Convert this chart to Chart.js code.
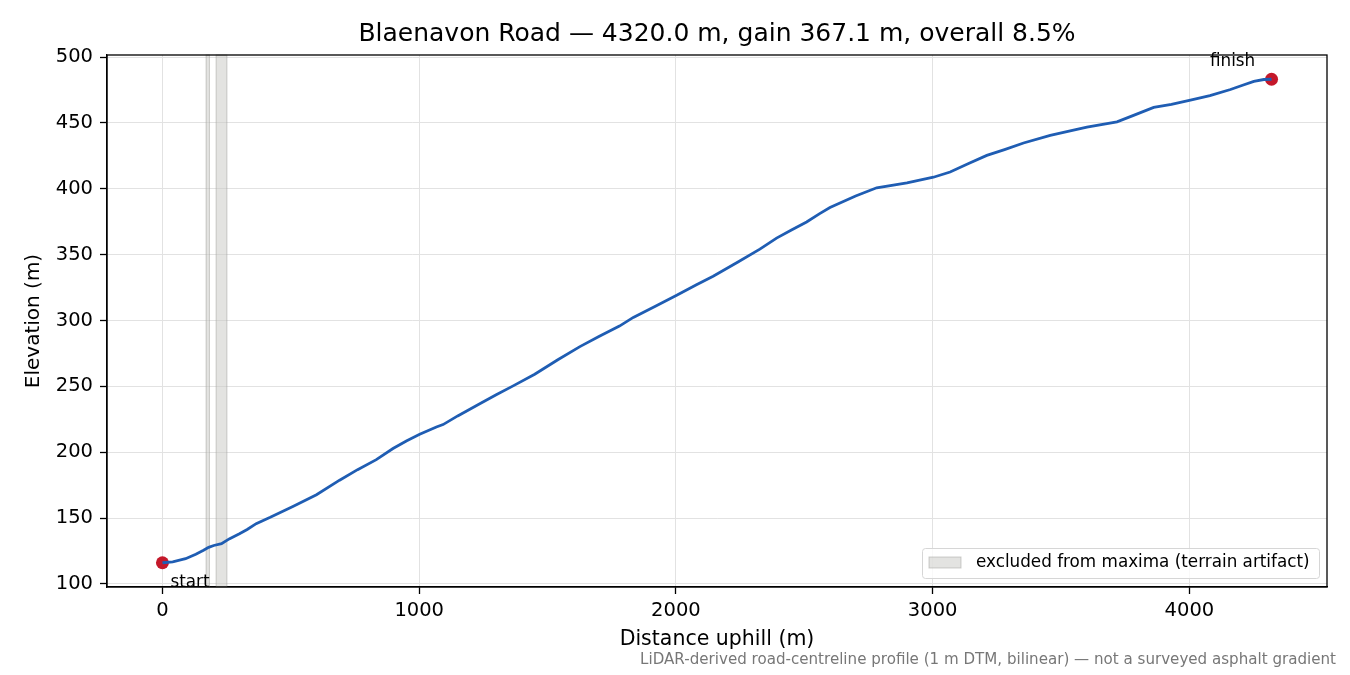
<!DOCTYPE html>
<html>
<head>
<meta charset="utf-8">
<script src="https://cdn.jsdelivr.net/npm/chart.js@4"></script>
<style>
  html, body { margin: 0; padding: 0; background: #fff; }
  #wrap { width: 1350px; height: 675px; position: relative; }
</style>
</head>
<body>
<div id="wrap"><canvas id="profile" width="1350" height="675"></canvas></div>
<script>
// Profile samples (distance uphill in m, elevation in m)
const distance = [0, 40, 90, 130, 160, 180, 200, 230, 260, 300, 330, 365, 420, 508, 600, 690, 760, 833,
  898, 950, 1002, 1067, 1093, 1150, 1236, 1300, 1366, 1450, 1540, 1626, 1700, 1780, 1834, 1920, 2003,
  2080, 2145, 2240, 2327, 2392, 2450, 2509, 2560, 2600, 2700, 2782, 2900, 3003, 3068, 3140, 3211, 3280,
  3354, 3458, 3540, 3601, 3718, 3780, 3861, 3930, 4004, 4080, 4160, 4210, 4251, 4290, 4320];
const elevation = [116.1, 116.8, 119.2, 122.6, 125.6, 127.8, 129.2, 130.6, 134.2, 138.2, 141.4, 145.8,
  150.6, 158.8, 167.8, 178.8, 186.8, 194.4, 202.8, 208.6, 213.6, 219.2, 221.0, 227.6, 236.8, 243.6,
  250.4, 259.2, 270.2, 280.2, 287.8, 295.8, 302.4, 310.8, 319.2, 327.2, 333.6, 344.2, 354.2, 362.6,
  368.8, 374.8, 381.2, 385.8, 394.6, 400.8, 404.6, 408.8, 412.8, 419.2, 425.4, 429.8, 434.8, 440.6,
  444.2, 446.8, 450.8, 455.6, 461.8, 464.2, 467.4, 470.8, 475.4, 478.8, 481.6, 483.0, 483.2];

// Stretches left out of the maxima search
const excludedFrom = [170, 209];
const excludedTo = [183, 251];

const endLabels = ['start', 'finish'];
const xTicks = [0, 1000, 2000, 3000, 4000];
const yTicks = [100, 150, 200, 250, 300, 350, 400, 450, 500];

const profilePoints = distance.map((d, i) => ({ x: d, y: elevation[i] }));
const last = distance.length - 1;
const endPoints = [
  { x: distance[0], y: elevation[0] },
  { x: distance[last], y: elevation[last] }
];

const FONT = "'DejaVu Sans', sans-serif";
const bandFill = 'rgba(200, 200, 195, 0.5)';
const bandEdge = 'rgba(160, 160, 155, 0.5)';

// bands behind the line, title / frame / labels / legend on top
const extras = {
  id: 'extras',
  beforeDatasetsDraw(chart) {
    const { ctx, chartArea: a, scales: { x } } = chart;
    ctx.save();
    excludedFrom.forEach((from, i) => {
      const x0 = x.getPixelForValue(from);
      const x1 = x.getPixelForValue(excludedTo[i]);
      ctx.fillStyle = bandFill;
      ctx.fillRect(x0, a.top, x1 - x0, a.bottom - a.top);
      ctx.strokeStyle = bandEdge;
      ctx.lineWidth = 1;
      ctx.strokeRect(x0, a.top, x1 - x0, a.bottom - a.top);
    });
    ctx.restore();
  },
  afterDraw(chart) {
    const { ctx, chartArea: a, scales: { x, y } } = chart;
    ctx.save();
    // title, centred over the plot area
    ctx.fillStyle = '#000';
    ctx.font = '25px ' + FONT;
    ctx.textAlign = 'center';
    ctx.textBaseline = 'middle';
    ctx.fillText('Blaenavon Road \u2014 4320.0 m, gain 367.1 m, overall 8.5%', (a.left + a.right) / 2, 34);

    // axes frame
    ctx.strokeStyle = '#000';
    ctx.lineWidth = 1.3;
    ctx.strokeRect(a.left, a.top, a.right - a.left, a.bottom - a.top);

    // start / finish labels
    ctx.font = '16.8px ' + FONT;
    ctx.textAlign = 'left';
    ctx.fillText(endLabels[0], x.getPixelForValue(endPoints[0].x) + 8, y.getPixelForValue(endPoints[0].y) + 20);
    ctx.textAlign = 'center';
    ctx.fillText(endLabels[1], x.getPixelForValue(endPoints[1].x) - 39, y.getPixelForValue(endPoints[1].y) - 18);

    // legend box
    const lw = 397, lh = 30;
    const lx = a.right - 8 - lw, ly = a.bottom - 9 - lh;
    ctx.fillStyle = 'rgba(255,255,255,0.8)';
    ctx.strokeStyle = '#d6d6d6';
    ctx.lineWidth = 1;
    ctx.beginPath();
    ctx.roundRect(lx + 0.5, ly + 0.5, lw, lh, 3);
    ctx.fill();
    ctx.stroke();
    ctx.fillStyle = bandFill;
    ctx.fillRect(lx + 7, ly + 9, 32, 11);
    ctx.strokeStyle = bandEdge;
    ctx.strokeRect(lx + 7, ly + 9, 32, 11);
    ctx.fillStyle = '#000';
    ctx.textAlign = 'left';
    ctx.font = '16.8px ' + FONT;
    ctx.fillText('excluded from maxima (terrain artifact)', lx + 54, ly + 15);

    // footnote
    ctx.fillStyle = '#777';
    ctx.font = '15.1px ' + FONT;
    ctx.textAlign = 'right';
    ctx.fillText('LiDAR-derived road-centreline profile (1 m DTM, bilinear) \u2014 not a surveyed asphalt gradient', 1336, 660);
    ctx.restore();
  }
};

new Chart(document.getElementById('profile'), {
  type: 'scatter',
  data: {
    datasets: [
      {
        label: 'profile',
        data: profilePoints,
        showLine: true,
        borderColor: '#1f5db3',
        borderWidth: 2.8,
        pointRadius: 0,
        tension: 0
      },
      {
        label: 'ends',
        data: endPoints,
        pointRadius: 6.5,
        pointBackgroundColor: '#c4182a',
        pointBorderWidth: 0
      }
    ]
  },
  options: {
    responsive: false,
    animation: false,
    devicePixelRatio: 1,
    layout: { padding: { left: 0, right: 23, top: 55, bottom: 0 } },
    plugins: {
      legend: { display: false },
      tooltip: { enabled: false },
      title: { display: false }
    },
    scales: {
      x: {
        type: 'linear',
        min: -216,
        max: 4536,
        afterBuildTicks(scale) { scale.ticks = xTicks.map(v => ({ value: v })); },
        afterFit(scale) { scale.height = 88; },
        ticks: {
          color: '#000',
          font: { family: FONT, size: 19.5 },
          padding: 5,
          maxRotation: 0,
          autoSkip: false,
          callback: v => String(v)
        },
        grid: { color: '#e2e2e2', lineWidth: 1, tickColor: '#000', tickLength: 7, tickWidth: 1.3 },
        border: { display: true, color: '#000', width: 1.3 },
        title: {
          display: true,
          text: 'Distance uphill (m)',
          color: '#000',
          font: { family: FONT, size: 20.5 },
          padding: { top: 4, bottom: 22.7 }
        }
      },
      y: {
        type: 'linear',
        min: 97.7,
        max: 501.6,
        afterBuildTicks(scale) { scale.ticks = yTicks.map(v => ({ value: v })); },
        afterFit(scale) { scale.width = 107; },
        ticks: {
          color: '#000',
          font: { family: FONT, size: 19.5 },
          padding: 7,
          autoSkip: false,
          callback: v => String(v)
        },
        grid: { color: '#e2e2e2', lineWidth: 1, tickColor: '#000', tickLength: 7, tickWidth: 1.3 },
        border: { display: true, color: '#000', width: 1.3 },
        title: {
          display: true,
          text: 'Elevation (m)',
          color: '#000',
          font: { family: FONT, size: 20 },
          padding: { top: 22, bottom: 4 }
        }
      }
    }
  },
  plugins: [extras]
});
</script>
</body>
</html>
